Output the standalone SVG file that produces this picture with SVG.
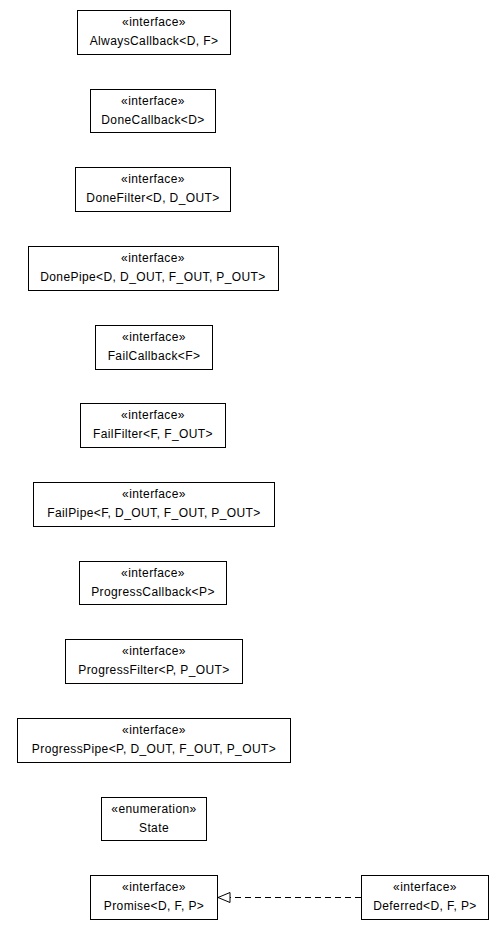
<svg xmlns="http://www.w3.org/2000/svg" width="504" height="929" viewBox="0 0 504 929">
<style>
.box{fill:#fff;stroke:#000;stroke-width:1}
text{font-family:"Liberation Sans",Arial,sans-serif;font-size:12px;letter-spacing:0.4px;fill:#000;text-anchor:middle}
.conn{stroke:#000;stroke-width:1;fill:none;stroke-dasharray:6,4}
</style>
<defs>
<marker id="tri" viewBox="0 0 14 12" refX="13" refY="6" markerWidth="14" markerHeight="12" markerUnits="userSpaceOnUse" orient="auto">
<path d="M1,1 L13,6 L1,11 Z" fill="#fff" stroke="#000" stroke-width="1"/>
</marker>
</defs>
<rect width="504" height="929" fill="#fff"/>
<g id="AlwaysCallback"><rect class="box" x="77.5" y="10.5" width="153" height="44"/><text x="154" y="26">«interface»</text><text x="154" y="45">AlwaysCallback&lt;D, F&gt;</text></g>
<g id="DoneCallback"><rect class="box" x="90.5" y="89.5" width="125" height="43"/><text x="153" y="105">«interface»</text><text x="153" y="124">DoneCallback&lt;D&gt;</text></g>
<g id="DoneFilter"><rect class="box" x="75.5" y="167.5" width="155" height="44"/><text x="153" y="183">«interface»</text><text x="153" y="202">DoneFilter&lt;D, D_OUT&gt;</text></g>
<g id="DonePipe"><rect class="box" x="28.5" y="246.5" width="250" height="44"/><text x="153" y="262">«interface»</text><text x="153" y="281">DonePipe&lt;D, D_OUT, F_OUT, P_OUT&gt;</text></g>
<g id="FailCallback"><rect class="box" x="95.5" y="325.5" width="117" height="44"/><text x="154" y="341">«interface»</text><text x="154" y="360">FailCallback&lt;F&gt;</text></g>
<g id="FailFilter"><rect class="box" x="80.5" y="403.5" width="145" height="44"/><text x="153" y="419">«interface»</text><text x="153" y="438">FailFilter&lt;F, F_OUT&gt;</text></g>
<g id="FailPipe"><rect class="box" x="33.5" y="482.5" width="241" height="44"/><text x="154" y="498">«interface»</text><text x="154" y="517">FailPipe&lt;F, D_OUT, F_OUT, P_OUT&gt;</text></g>
<g id="ProgressCallback"><rect class="box" x="79.5" y="561.5" width="147" height="43"/><text x="153" y="577">«interface»</text><text x="153" y="596">ProgressCallback&lt;P&gt;</text></g>
<g id="ProgressFilter"><rect class="box" x="65.5" y="639.5" width="177" height="44"/><text x="154" y="655">«interface»</text><text x="154" y="674">ProgressFilter&lt;P, P_OUT&gt;</text></g>
<g id="ProgressPipe"><rect class="box" x="17.5" y="718.5" width="273" height="44"/><text x="154" y="734">«interface»</text><text x="154" y="753">ProgressPipe&lt;P, D_OUT, F_OUT, P_OUT&gt;</text></g>
<g id="State"><rect class="box" x="101.5" y="797.5" width="105" height="43"/><text x="154" y="813">«enumeration»</text><text x="154" y="832">State</text></g>
<g id="Promise"><rect class="box" x="90.5" y="875.5" width="127" height="44"/><text x="154" y="891">«interface»</text><text x="154" y="910">Promise&lt;D, F, P&gt;</text></g>
<g id="Deferred"><rect class="box" x="361.5" y="875.5" width="127" height="44"/><text x="425" y="891">«interface»</text><text x="425" y="910">Deferred&lt;D, F, P&gt;</text></g>
<g id="connectors"><path class="conn" d="M361,897.5 L218,897.5" marker-end="url(#tri)"/></g>
</svg>
